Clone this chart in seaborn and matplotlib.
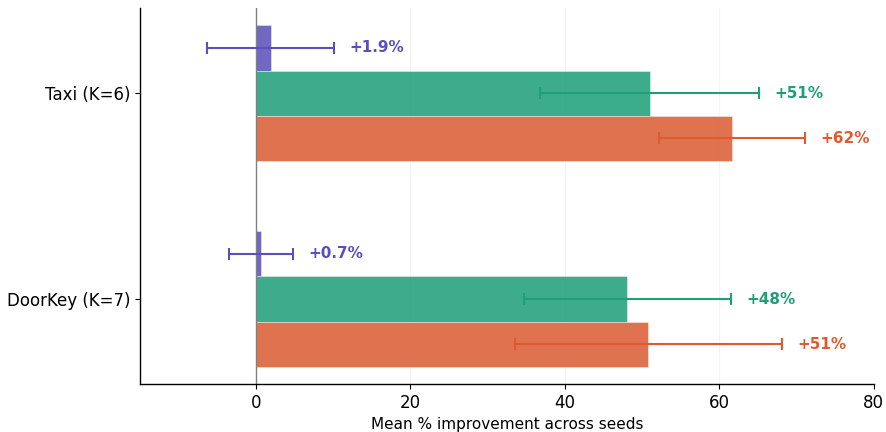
import pandas as pd
import seaborn as sns
import matplotlib.pyplot as plt

# Dados
ambientes = ["Taxi (K=6)", "DoorKey (K=7)"]
metodos = ["Método A", "Método B", "Método C"]
media_a = [1.9, 0.7]
media_b = [51.0, 48.1]
media_c = [61.6, 50.8]
erro_a = [8.2, 4.15]
erro_b = [14.2, 13.4]
erro_c = [9.45, 17.3]

cores = ["#574eba", "#1b9e77", "#da5b31"]
cores_texto = ["#5a4fc0", "#1f9e77", "#e05a2e"]

medias = [media_a, media_b, media_c]
erros = [erro_a, erro_b, erro_c]

linhas = []
for m, vals in zip(metodos, medias):
    for amb, v in zip(ambientes, vals):
        linhas.append({"Ambiente": amb, "Metodo": m, "Melhoria": v})
df = pd.DataFrame(linhas)

fig, ax = plt.subplots(figsize=(8.87, 4.32), dpi=100)
fig.subplots_adjust(left=0.158, right=0.985, top=0.981, bottom=0.111)

sns.barplot(data=df, y="Ambiente", x="Melhoria", hue="Metodo", hue_order=metodos,
            order=ambientes, palette=cores, orient="h", width=0.66, alpha=0.85,
            saturation=1, errorbar=None, legend=False, edgecolor="#f3f3f3",
            linewidth=0.4, ax=ax)

# Barras de erro e rótulos
containers = list(ax.containers)
for i, cont in enumerate(containers):
    for j, barra in enumerate(cont):
        y = barra.get_y() + barra.get_height() / 2
        v = medias[i][j]
        e = erros[i][j]
        ax.errorbar(v, y, xerr=e, fmt="none", ecolor=cores_texto[i],
                    elinewidth=1.5, capsize=4, capthick=1.5, zorder=4)
        rotulo = f"+{v:.1f}%" if v < 10 else f"+{v:.0f}%"
        ax.text(v + e + 2, y, rotulo, color=cores_texto[i], fontweight="bold",
                fontsize=11, va="center", ha="left")

ax.axvline(0, color="gray", linewidth=1, zorder=1)
ax.set_xlim(-15, 80)
ax.set_xticks([0, 20, 40, 60, 80])
ax.grid(axis="x", alpha=0.15, linewidth=0.8)
ax.set_axisbelow(True)
ax.set_ylabel("")
ax.set_xlabel("Mean % improvement across seeds", fontsize=11)
ax.tick_params(axis="both", labelsize=12)
sns.despine(ax=ax)
for s in ["left", "bottom"]:
    ax.spines[s].set_linewidth(1.0)

plt.savefig("out.png", dpi=100)
